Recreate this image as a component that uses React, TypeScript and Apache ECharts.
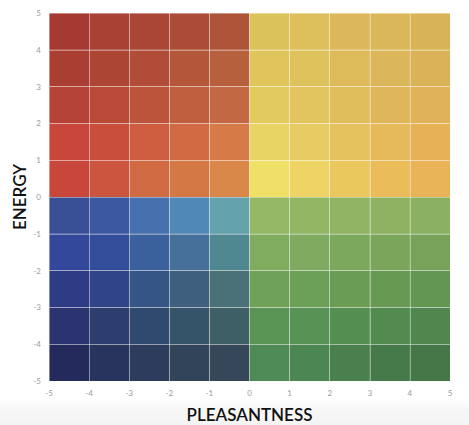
import React, { useEffect, useRef } from "react";
import * as echarts from "echarts";

// x categories: left edges of cells from -5 to 4; rows from top (energy 4..5) down to (-5..-4)
const xStarts = [-5, -4, -3, -2, -1, 0, 1, 2, 3, 4];
const yStarts = [4, 3, 2, 1, 0, -1, -2, -3, -4, -5];
const xTicks = [-5, -4, -3, -2, -1, 0, 1, 2, 3, 4, 5];
const yTicks = [-5, -4, -3, -2, -1, 0, 1, 2, 3, 4, 5];

const row4 = ["#A63A32", "#A84235", "#AA4636", "#AC4C38", "#AE5439", "#DBC25A", "#DDC05B", "#DCB85A", "#DAB85A", "#D9B457"];
const row3 = ["#AB3E33", "#AD4535", "#B04C37", "#B3563A", "#B6603D", "#DFC55C", "#DEC25C", "#DDBB5A", "#DCB65A", "#DAB258"];
const row2 = ["#B64337", "#B94A38", "#BC543B", "#C05F3F", "#C26943", "#E2CA5F", "#E2C55E", "#E0BE5C", "#E0B65A", "#E0B259"];
const row1 = ["#C9463A", "#CA4E3C", "#CE5C3F", "#D26B43", "#D67A47", "#E7D464", "#E6CC62", "#E6C25E", "#E6B95B", "#E7B257"];
const row0 = ["#C9473A", "#CC5540", "#D06A43", "#D47845", "#DA8849", "#EFE068", "#EDD464", "#EBC85E", "#EABC5A", "#E9B457"];
const rowM1 = ["#3A5096", "#3C58A0", "#4670AE", "#5088B6", "#64A3AE", "#94B866", "#92B664", "#90B463", "#8EB262", "#8CB061"];
const rowM2 = ["#33489A", "#344D9B", "#3A619B", "#46709A", "#4F8890", "#80AC60", "#7FAA5F", "#7CA85D", "#7AA55B", "#78A25A"];
const rowM3 = ["#2D3C84", "#2F4587", "#345586", "#3E5F7E", "#4A7177", "#6FA258", "#6DA057", "#6A9C55", "#679953", "#639653"];
const rowM4 = ["#2B3470", "#2D3E6E", "#2F4A6E", "#365469", "#3F5F66", "#5A9454", "#589254", "#548E51", "#528A4F", "#4F874E"];
const rowM5 = ["#252A5C", "#28335E", "#2D3B5C", "#32445A", "#36475A", "#4E8A55", "#4C8652", "#4A7F4E", "#477A4A", "#457749"];

const colorRows = [row4, row3, row2, row1, row0, rowM1, rowM2, rowM3, rowM4, rowM5];

export default function App() {
  const ref = useRef<HTMLDivElement>(null);
  useEffect(() => {
    if (!ref.current) return;
    const chart = echarts.init(ref.current, null, { renderer: "svg" });
    const data: any[] = [];
    yStarts.forEach((y, r) => {
      xStarts.forEach((x, c) => {
        data.push({ value: [x, y], itemStyle: { color: colorRows[r][c] } });
      });
    });
    const labelStyle = { color: "#9a9a9a", fontSize: 8, fontFamily: "Lato" };
    const titleStyle = { fontFamily: "Lato", fontSize: 17, fontWeight: 600, color: "#111" };
    chart.setOption({
      animation: false,
      backgroundColor: "#ffffff",
      graphic: [
        {
          type: "rect",
          silent: true,
          z: -10,
          shape: { x: 0, y: 398, width: 469, height: 27 },
          style: {
            fill: new echarts.graphic.LinearGradient(0, 0, 0, 1, [
              { offset: 0, color: "#ffffff" },
              { offset: 0.4, color: "#f7f7f7" },
              { offset: 1, color: "#f4f4f4" },
            ]),
          },
        },
      ],
      grid: { left: 49, right: 19, top: 13, bottom: 44, containLabel: false, outerBoundsMode: "none" },
      xAxis: {
        type: "value",
        min: -5,
        max: 5,
        interval: 1,
        z: 5,
        name: "PLEASANTNESS",
        nameLocation: "middle",
        nameGap: 25,
        nameMoveOverlap: false,
        nameTextStyle: titleStyle,
        axisLine: { show: false },
        axisTick: { show: false },
        axisLabel: { ...labelStyle, margin: 8, formatter: (v: number) => (xTicks.includes(v) ? String(v) : "") },
        splitLine: { show: true, lineStyle: { color: "rgba(255,255,255,0.4)", width: 1 } },
      },
      yAxis: {
        type: "value",
        min: -5,
        max: 5,
        interval: 1,
        z: 5,
        name: "ENERGY",
        nameLocation: "middle",
        nameGap: 21,
        nameMoveOverlap: false,
        nameRotate: 90,
        nameTextStyle: titleStyle,
        axisLine: { show: false },
        axisTick: { show: false },
        axisLabel: { ...labelStyle, margin: 8, formatter: (v: number) => (yTicks.includes(v) ? String(v) : "") },
        splitLine: { show: true, lineStyle: { color: "rgba(255,255,255,0.4)", width: 1 } },
      },
      series: [
        {
          type: "custom",
          z: 2,
          data,
          renderItem: (params: any, api: any) => {
            const x = api.value(0);
            const y = api.value(1);
            const p1 = api.coord([x, y + 1]);
            const p2 = api.coord([x + 1, y]);
            return {
              type: "rect",
              shape: { x: p1[0], y: p1[1], width: p2[0] - p1[0], height: p2[1] - p1[1] },
              style: { fill: api.visual("color") },
            };
          },
        },
      ],
    });
    return () => chart.dispose();
  }, []);
  return <div ref={ref} style={{ position: "absolute", left: 0, top: 0, width: 469, height: 425 }} />;
}
